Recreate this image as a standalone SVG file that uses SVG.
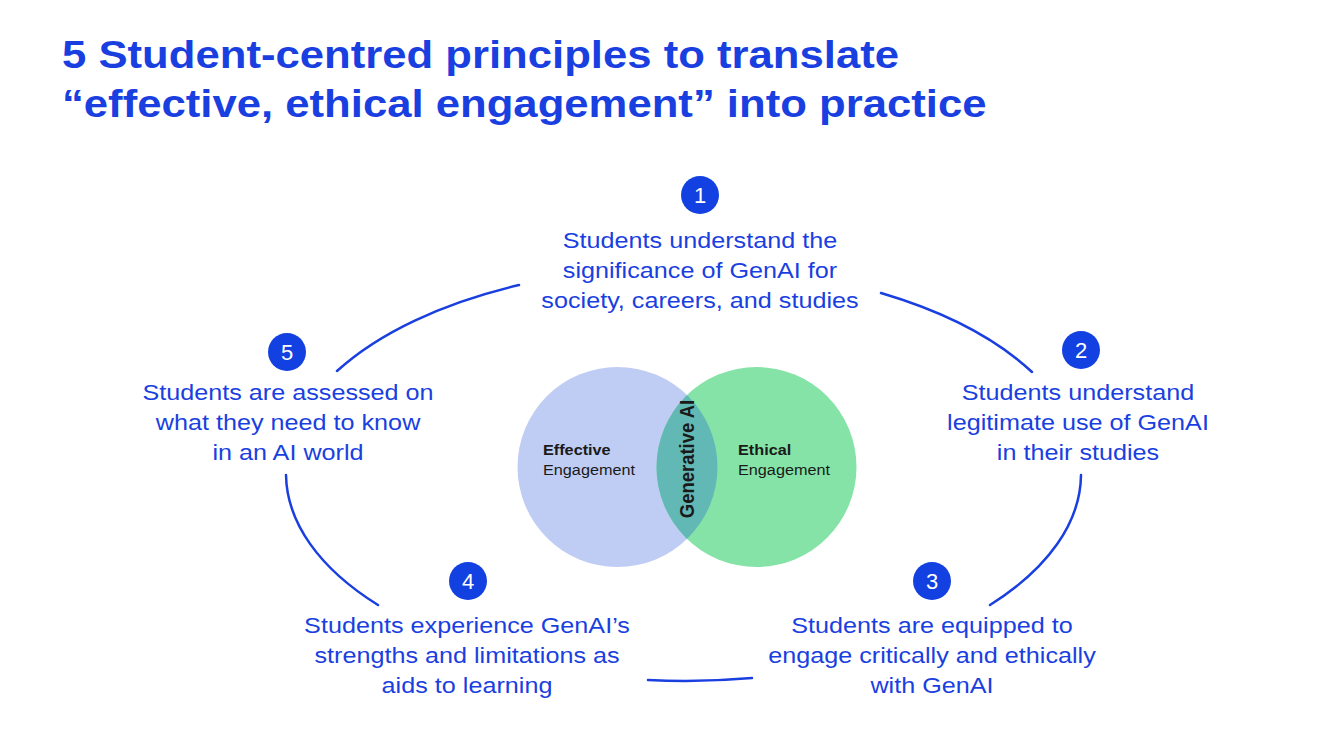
<svg xmlns="http://www.w3.org/2000/svg" width="1320" height="751" viewBox="0 0 1320 751">
<style>
.title{font-family:"Liberation Sans",Arial,sans-serif;font-weight:bold;font-size:39px;fill:#1a3fe0}
.body{font-family:"Liberation Sans",Arial,sans-serif;font-size:22.5px;fill:#1a3fe0;text-anchor:middle}
.num{font-family:"Liberation Sans",Arial,sans-serif;font-size:22px;fill:#ffffff;text-anchor:middle}
.badge{fill:#1340e0}
.venn{font-family:"Liberation Sans",Arial,sans-serif;font-size:14.5px;fill:#1a1a1a}
.arc{fill:none;stroke:#1a3fe0;stroke-width:2.5;stroke-linecap:round}
</style>
<rect width="1320" height="751" fill="#ffffff"/>
<g id="title" transform="translate(62 0) scale(1.12 1)">
<text class="title" x="0" y="68">5 Student-centred principles to translate</text>
<text class="title" x="0" y="117">“effective, ethical engagement” into practice</text>
</g>
<g id="connectors">
<path class="arc" d="M337 371 A398 206 0 0 1 519 285"/>
<path class="arc" d="M881 293 A398 206 0 0 1 1032 372"/>
<path class="arc" d="M1081 475 A398 206 0 0 1 990 605"/>
<path class="arc" d="M752 678 A398 206 0 0 1 648 680"/>
<path class="arc" d="M378 605 A398 206 0 0 1 286 475"/>
</g>
<g id="venn">
<circle cx="617.5" cy="467" r="100" fill="#bfcdf5"/>
<circle cx="756.5" cy="467" r="100" fill="#86e3a8"/>
<clipPath id="clipBlue"><circle cx="617.5" cy="467" r="100"/></clipPath>
<circle cx="756.5" cy="467" r="100" fill="#62b8b5" clip-path="url(#clipBlue)"/>
<g transform="translate(543 0) scale(1.12 1)">
<text class="venn" x="0" y="455" font-weight="bold">Effective</text>
<text class="venn" x="0" y="475">Engagement</text>
</g>
<g transform="translate(738 0) scale(1.12 1)">
<text class="venn" x="0" y="455" font-weight="bold">Ethical</text>
<text class="venn" x="0" y="475">Engagement</text>
</g>
<text class="venn" font-weight="bold" text-anchor="middle" transform="translate(694 459) scale(1.12 1) rotate(-90)" style="font-size:18.5px">Generative AI</text>
</g>
<g id="p1">
<circle class="badge" cx="700" cy="195" r="19"/>
<text class="num" x="700" y="203">1</text>
<g transform="translate(700 0) scale(1.12 1)">
<text class="body" x="0" y="248">Students understand the</text>
<text class="body" x="0" y="278">significance of GenAI for</text>
<text class="body" x="0" y="308">society, careers, and studies</text>
</g>
</g>
<g id="p2">
<circle class="badge" cx="1081" cy="350" r="19"/>
<text class="num" x="1081" y="358">2</text>
<g transform="translate(1078 0) scale(1.12 1)">
<text class="body" x="0" y="400">Students understand</text>
<text class="body" x="0" y="430">legitimate use of GenAI</text>
<text class="body" x="0" y="460">in their studies</text>
</g>
</g>
<g id="p3">
<circle class="badge" cx="932" cy="581" r="19"/>
<text class="num" x="932" y="589">3</text>
<g transform="translate(932 0) scale(1.12 1)">
<text class="body" x="0" y="633">Students are equipped to</text>
<text class="body" x="0" y="663">engage critically and ethically</text>
<text class="body" x="0" y="693">with GenAI</text>
</g>
</g>
<g id="p4">
<circle class="badge" cx="468" cy="581" r="19"/>
<text class="num" x="468" y="589">4</text>
<g transform="translate(467 0) scale(1.12 1)">
<text class="body" x="0" y="633">Students experience GenAI’s</text>
<text class="body" x="0" y="663">strengths and limitations as</text>
<text class="body" x="0" y="693">aids to learning</text>
</g>
</g>
<g id="p5">
<circle class="badge" cx="287" cy="352" r="19"/>
<text class="num" x="287" y="360">5</text>
<g transform="translate(288 0) scale(1.12 1)">
<text class="body" x="0" y="400">Students are assessed on</text>
<text class="body" x="0" y="430">what they need to know</text>
<text class="body" x="0" y="460">in an AI world</text>
</g>
</g>
</svg>
